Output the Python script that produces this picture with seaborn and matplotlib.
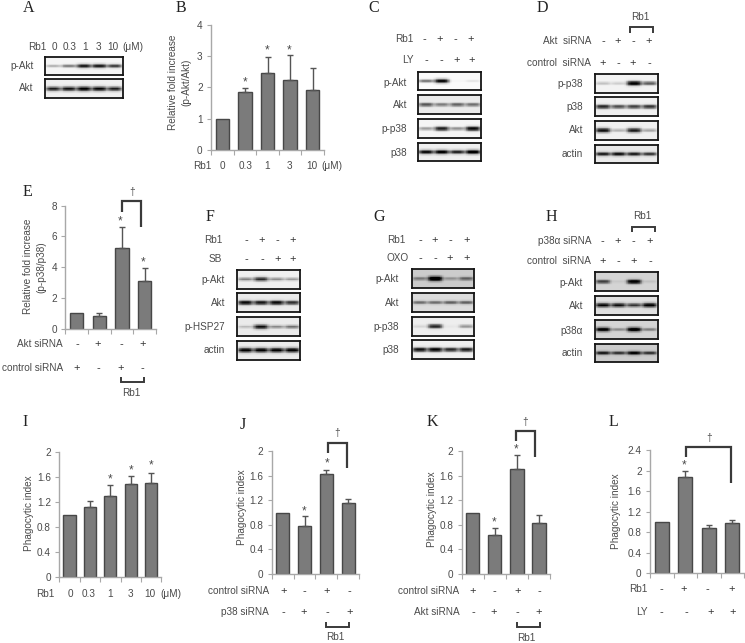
import numpy as np
import matplotlib
matplotlib.use("Agg")
import matplotlib.pyplot as plt
import seaborn as sns

W, H = 745, 643
TXT = "#4a4a4a"
AXC = "#a8a8a8"
BAR = "#7b7b7b"
BAREDGE = "#474747"
FS = 7.2

sns.set_theme(style="white")
plt.rcParams["font.family"] = ["Liberation Sans", "DejaVu Sans"]

# bar panels (mean, upper error)
b_vals = [1, 1.85, 2.45, 2.23, 1.93]
b_err = [0, 0.12, 0.53, 0.80, 0.70]
e_vals = [1, 0.8, 5.25, 3.1]
e_err = [0, 0.2, 1.35, 0.85]
i_vals = [1, 1.12, 1.3, 1.49, 1.5]
i_err = [0, 0.10, 0.18, 0.12, 0.17]
j_vals = [1, 0.79, 1.63, 1.15]
j_err = [0, 0.15, 0.07, 0.07]
k_vals = [1, 0.64, 1.7, 0.83]
k_err = [0, 0.11, 0.24, 0.13]
l_vals = [1, 1.88, 0.88, 0.98]
l_err = [0, 0.12, 0.07, 0.06]

ticks_4 = ["0", "1", "2", "3", "4"]
ticks_8 = ["0", "2", "4", "6", "8"]
ticks_2 = ["0", "0.4", "0.8", "1.2", "1.6", "2"]
ticks_24 = ["0", "0.4", "0.8", "1.2", "1.6", "2", "2.4"]

# blot band strengths per lane
a_pakt = [0.25, 0.45, 0.85, 0.85, 0.7]
a_akt = [0.85, 0.9, 1, 0.95, 0.85]
c_pakt = [0.5, 0.95, 0.02, 0.08]
c_akt = [0.6, 0.45, 0.55, 0.5]
c_pp38 = [0.35, 0.85, 0.4, 0.95]
c_p38 = [0.9, 0.95, 0.8, 1]
d_pp38 = [0.2, 0.15, 1, 0.6]
d_p38 = [0.8, 0.65, 0.7, 0.75]
d_akt = [0.9, 0.25, 0.85, 0.3]
d_actin = [0.8, 0.85, 0.8, 0.7]
f_pakt = [0.45, 0.8, 0.4, 0.35]
f_akt = [0.9, 0.85, 0.9, 0.75]
f_phsp = [0.2, 0.9, 0.4, 0.5]
f_actin = [1, 1, 1, 1]
g_pakt = [0.35, 1, 0.25, 0.45]
g_akt = [0.45, 0.45, 0.5, 0.5]
g_pp38 = [0.1, 0.8, 0.03, 0.35]
g_p38 = [0.9, 0.95, 0.8, 0.85]
h_pakt = [0.6, 0.05, 0.9, 0.08]
h_akt = [0.9, 0.85, 0.7, 0.95]
h_p38a = [0.9, 0.3, 0.95, 0.35]
h_actin = [0.7, 0.6, 0.8, 0.6]

fig = plt.figure(figsize=(W / 100, H / 100), dpi=100, facecolor="white")


def px_axes(x0, y0, x1, y1):
    return fig.add_axes([x0 / W, 1 - y1 / H, (x1 - x0) / W, (y1 - y0) / H])


over = fig.add_axes([0, 0, 1, 1], zorder=10)
over.set_xlim(0, W)
over.set_ylim(H, 0)
over.axis("off")
over.patch.set_alpha(0)


def txt(x, y, s, ha="center", size=FS, **kw):
    kw.setdefault("color", TXT)
    over.text(x, y, s, ha=ha, va="center", fontsize=size, **kw)


def letter(x, y, s):
    txt(x, y, s, size=11.5, family="Liberation Serif", color="#222222")


def star(x, y):
    txt(x, y + 2.5, "*", size=8.5)


def row(label, right, y, signs, xs):
    txt(right, y, label, ha="right")
    for s, x in zip(signs, xs):
        txt(x, y, "+" if s == "+" else "-", size=8, color="#333333")


def bracket(xs, ys, lw=1.4):
    over.plot(xs, ys, color="#3a3a3a", lw=lw, solid_capstyle="butt", solid_joinstyle="miter")


def bar_panel(x0, y0, x1, y1, vals, errs, ticks, ylabels, ylab_x, ylab_y):
    ax = px_axes(x0, y0, x1, y1)
    pos = list(range(len(vals)))
    sns.barplot(x=pos, y=vals, color=BAR, saturation=1, width=0.6,
                edgecolor=BAREDGE, linewidth=1.0, ax=ax, zorder=2)
    # first bar is the control, no error bar there
    ax.errorbar(pos[1:], vals[1:], yerr=[np.zeros(len(vals) - 1), errs[1:]], fmt="none",
                ecolor="#555555", elinewidth=1.0, capsize=2.5, capthick=1.0, zorder=3)
    ax.set_xlim(-0.5, len(vals) - 0.5)
    tick_vals = [float(t) for t in ticks]
    ax.set_ylim(0, tick_vals[-1])
    ax.set_xlabel("")
    ax.set_ylabel("")
    ax.set_yticks(tick_vals)
    ax.set_yticklabels(ticks, fontsize=FS, color=TXT)
    ax.set_xticks([])
    ax.set_xticks(np.arange(len(vals) + 1) - 0.5, minor=True)
    ax.tick_params(axis="x", which="minor", bottom=True, length=3.5, width=0.8, color=AXC)
    ax.tick_params(axis="y", left=True, length=3, width=0.8, color=AXC, pad=3)
    sns.despine(ax=ax)
    for side in ["left", "bottom"]:
        ax.spines[side].set_color(AXC)
        ax.spines[side].set_linewidth(1.0)
    ax.patch.set_alpha(0)
    for lx, s in zip(ylab_x, ylabels):
        txt(lx, ylab_y, s, rotation=90)
    return ax


def blot(x0, y0, x1, y1, bands, bg=0.03, frame="#151515"):
    nx, ny = 90, 30
    xx = np.linspace(0, len(bands), nx)
    yy = np.linspace(-1, 1, ny)[:, None]
    grid = np.zeros((ny, nx))
    for i, s in enumerate(bands):
        prof_x = np.exp(-(((xx - i - 0.5) / 0.47) ** 4))
        prof_y = np.exp(-((yy / (0.13 + 0.12 * s)) ** 2))
        grid += s * prof_x * prof_y
    grid = np.clip(grid + bg, 0, 1)
    ax = px_axes(x0, y0, x1, y1)
    sns.heatmap(grid, vmin=0, vmax=1, cmap="gray_r", cbar=False,
                xticklabels=False, yticklabels=False, rasterized=True, ax=ax)
    for sp in ax.spines.values():
        sp.set_visible(True)
        sp.set_color(frame)
        sp.set_linewidth(1.3)
    return ax


# ---- A
letter(29, 8, "A")
txt(37, 46.5, "Rb1")
for x, s in zip([54, 70, 84.7, 98.7, 112.7, 133], ["0", "0.3", "1", "3", "10", "(μM)"]):
    txt(x, 46.5, s)
blot(45.3, 56.7, 122.7, 75.3, a_pakt, bg=0.04)
blot(45.3, 79.3, 122.7, 98.3, a_akt, bg=0.06)
txt(33.5, 66, "p-Akt", ha="right")
txt(33.5, 88, "Akt", ha="right")

# ---- B
letter(180.7, 8, "B")
bar_panel(211, 25, 324, 149.7, b_vals, b_err, ticks_4,
          ["Relative fold increase", "(p-Akt/Akt)"], [173, 186], 82)
for x, s in zip([202, 222, 246, 267, 289, 312, 332], ["Rb1", "0", "0.3", "1", "3", "10", "(μM)"]):
    txt(x, 166, s)
star(245, 80)
star(267, 47.7)
star(289.3, 47.7)

# ---- C
letter(374, 8, "C")
row("Rb1", 414, 39.3, "-+-+", [424, 440, 455, 471])
row("LY", 414, 60, "--++", [426, 441, 456.7, 472])
blot(418, 72, 481, 90, c_pakt, bg=0.02)
blot(418, 95.3, 481, 114, c_akt, bg=0.08)
blot(418, 119.3, 481, 138, c_pp38, bg=0.04)
blot(418, 142.7, 481, 161.3, c_p38, bg=0.06)
for y, s in zip([82.7, 105, 128.7, 153], ["p-Akt", "Akt", "p-p38", "p38"]):
    txt(407, y, s, ha="right")

# ---- D
letter(542, 8, "D")
txt(640.7, 16.7, "Rb1")
bracket([630, 630, 653.3, 653.3], [32.7, 26.7, 26.7, 32.7])
row("Akt  siRNA", 591, 41.3, "-+-+", [603, 618, 633, 649])
row("control  siRNA", 591, 62.7, "+-+-", [603, 618, 633, 649])
blot(595, 74, 657.7, 92.7, d_pp38, bg=0.05)
blot(595, 97.3, 657.7, 116, d_p38, bg=0.06)
blot(595, 120.7, 657.7, 140, d_akt, bg=0.06)
blot(595, 144.7, 657.7, 163.3, d_actin, bg=0.08)
for y, s in zip([84, 107, 130, 154], ["p-p38", "p38", "Akt", "actin"]):
    txt(583, y, s, ha="right")

# ---- E
letter(27, 192, "E")
bar_panel(65.3, 205.7, 156, 328.7, e_vals, e_err, ticks_8,
          ["Relative fold increase", "(p-p38/p38)"], [28, 41.7], 266.7)
star(120.3, 219)
star(143.3, 260)
txt(132, 192, "†")
bracket([122.3, 122.3, 141.3, 141.3], [211.7, 201, 201, 226.7], lw=1.6)
row("Akt siRNA", 62.7, 344, "-+-+", [77, 98, 121, 142.7])
row("control siRNA", 62.7, 367.7, "+-+-", [77, 98, 121, 142.7])
bracket([120.7, 120.7, 144.3, 144.3], [377.3, 382.3, 382.3, 377.3])
txt(131.3, 392.7, "Rb1")

# ---- F
letter(210, 216.7, "F")
row("Rb1", 222.3, 239.7, "-+-+", [246, 262, 277.3, 292.7])
row("SB", 222.3, 259, "--++", [246, 262, 277.3, 292.7])
blot(237.3, 269.7, 300.3, 288.7, f_pakt, bg=0.06)
blot(237.3, 293.3, 300.3, 312, f_akt, bg=0.08)
blot(237.3, 317.3, 300.3, 336.3, f_phsp, bg=0.08)
blot(237.3, 340.7, 300.3, 359.7, f_actin, bg=0.08)
for y, s in zip([280, 303, 326.7, 350.3], ["p-Akt", "Akt", "p-HSP27", "actin"]):
    txt(225, y, s, ha="right")

# ---- G
letter(379, 216.7, "G")
row("Rb1", 405, 239.7, "-+-+", [420, 435, 450, 467])
row("OXO", 408.7, 258, "--++", [420, 435, 450, 467])
blot(411.7, 269, 474.3, 288.3, g_pakt, bg=0.2)
blot(411.7, 292.7, 474.3, 312.3, g_akt, bg=0.14)
blot(411.7, 317, 474.3, 335.7, g_pp38, bg=0.07)
blot(411.7, 340.3, 474.3, 359, g_p38, bg=0.06)
for y, s in zip([279, 303, 327, 350], ["p-Akt", "Akt", "p-p38", "p38"]):
    txt(399, y, s, ha="right")

# ---- H
letter(551, 216.7, "H")
txt(642.7, 216, "Rb1")
bracket([632.3, 632.3, 655.3, 655.3], [232, 226.7, 226.7, 232])
row("p38α siRNA", 591, 241, "-+-+", [602.7, 618, 633.7, 650])
row("control  siRNA", 591, 261, "+-+-", [602.7, 618, 633.7, 650])
blot(595, 272.3, 657.7, 291, h_pakt, bg=0.17)
blot(595, 295.7, 657.7, 314.7, h_akt, bg=0.12)
blot(595, 320, 657.7, 339, h_p38a, bg=0.17)
blot(595, 343.7, 657.7, 362.3, h_actin, bg=0.2)
for y, s in zip([282.7, 306, 330.7, 353], ["p-Akt", "Akt", "p38α", "actin"]):
    txt(583, y, s, ha="right")

# ---- I
letter(25, 421.7, "I")
bar_panel(59.3, 452, 161.3, 577, i_vals, i_err, ticks_2, ["Phagocytic index"], [29], 512.7)
for x, s in zip([45.7, 70, 89, 110, 130, 150, 170.7], ["Rb1", "0", "0.3", "1", "3", "10", "(μM)"]):
    txt(x, 594, s)
star(110, 476.7)
star(130.7, 467.7)
star(151, 462.7)

# ---- J
letter(243, 425, "J")
bar_panel(271.7, 451.3, 359.3, 574, j_vals, j_err, ticks_2, ["Phagocytic index"], [241.7], 507)
star(326.7, 461)
star(304, 509)
txt(337, 433, "†")
bracket([327.7, 327.7, 347, 347], [453, 443, 443, 468], lw=1.6)
row("control siRNA", 268.7, 590.7, "+-+-", [283.7, 304, 327, 349.3])
row("p38 siRNA", 268.7, 612, "-+-+", [283.7, 304, 327, 349.3])
bracket([325.7, 325.7, 349, 349], [621.7, 626.7, 626.7, 621.7])
txt(335, 637, "Rb1")

# ---- K
letter(432, 421.7, "K")
bar_panel(461.7, 451, 550, 574, k_vals, k_err, ticks_2, ["Phagocytic index"], [432], 509)
star(516, 446.7)
star(494, 520)
txt(525, 422, "†")
bracket([516.3, 516.3, 535.3, 535.3], [440.7, 431, 431, 456.7], lw=1.6)
row("control siRNA", 459.3, 591, "+-+-", [473, 494, 517.7, 539])
row("Akt siRNA", 459.3, 612, "-+-+", [473, 494, 517.7, 539])
bracket([516.7, 516.7, 540.3, 540.3], [621.7, 626.7, 626.7, 621.7])
txt(526.7, 638, "Rb1")

# ---- L
letter(613, 421.7, "L")
bar_panel(650, 450.3, 744, 573.3, l_vals, l_err, ticks_24, ["Phagocytic index"], [616], 511)
star(684.3, 463)
txt(709, 438, "†")
bracket([686, 686, 731, 731], [456.7, 446.7, 446.7, 482.7], lw=1.6)
row("Rb1", 647.3, 589.3, "-+-+", [661, 684, 707.7, 731.3])
row("LY", 647.3, 611.7, "--++", [661, 686.7, 711, 732.7])

fig.savefig("out.png", dpi=100)
